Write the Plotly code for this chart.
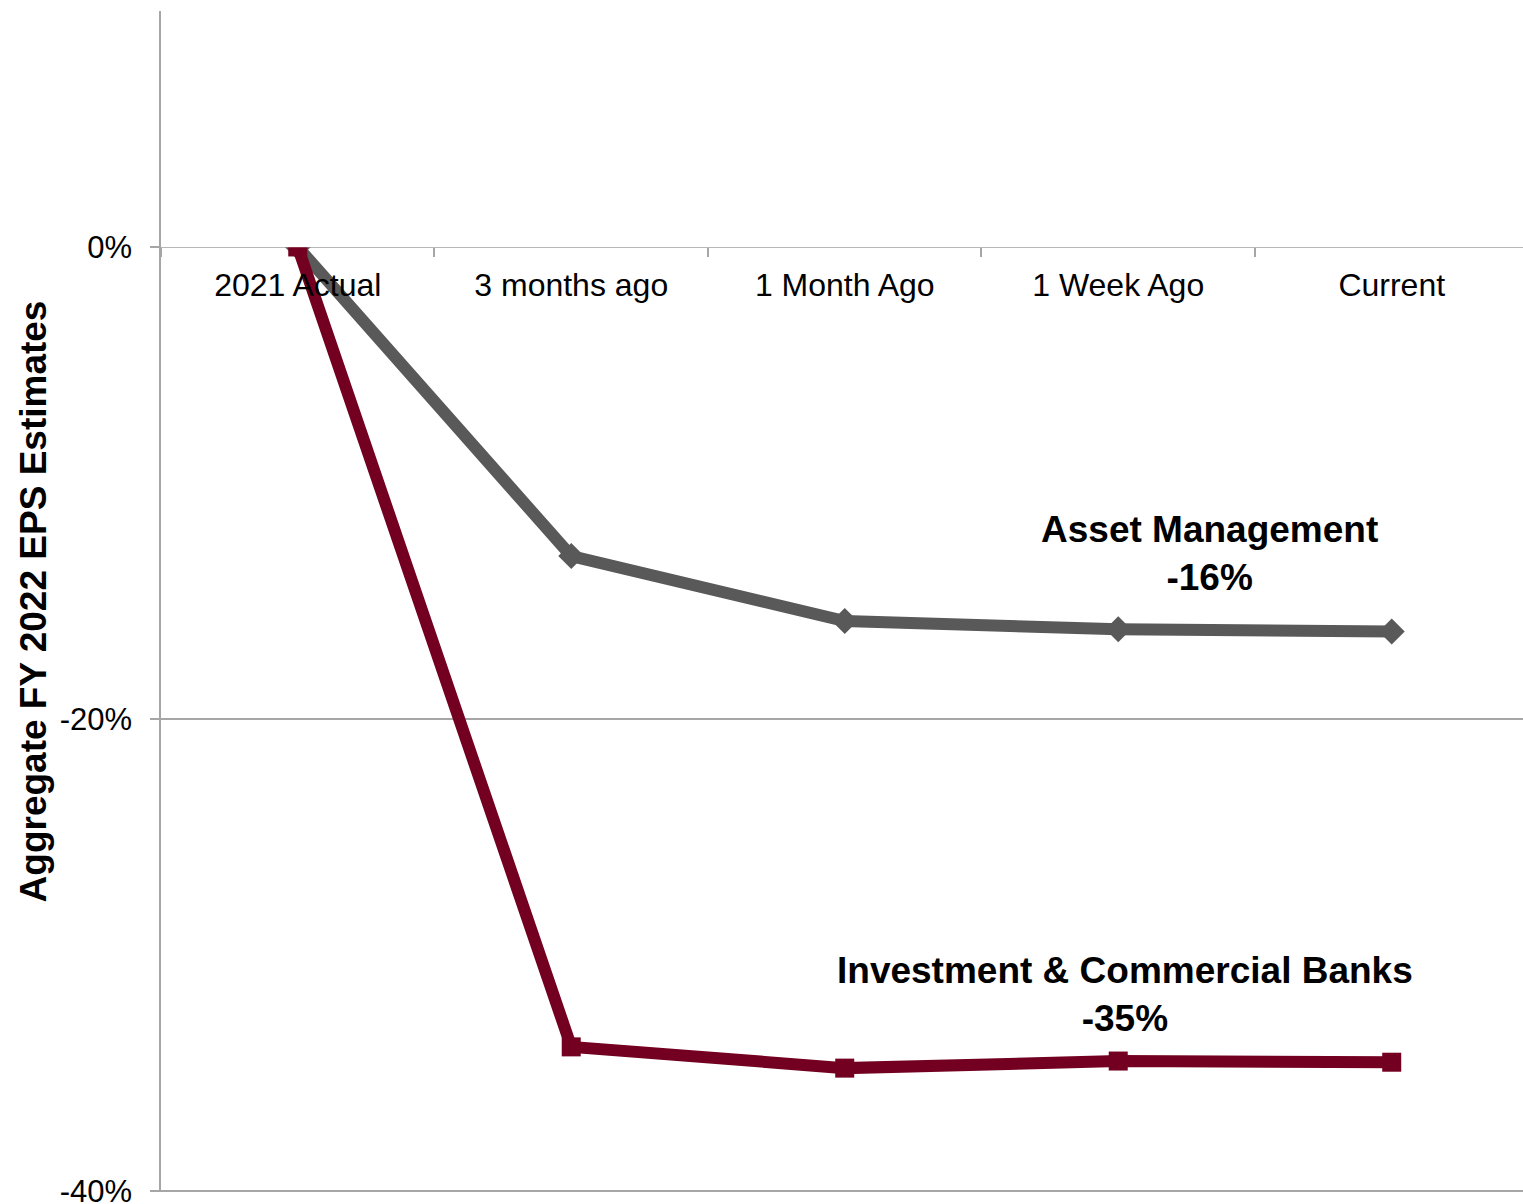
import plotly.graph_objects as go

categories = ["2021 Actual", "3 months ago", "1 Month Ago", "1 Week Ago", "Current"]
asset_mgmt = [0.0, -13.1, -15.85, -16.2, -16.3]
inv_banks = [0.0, -33.9, -34.8, -34.5, -34.55]
y_ticks = [0, -20, -40]
y_tick_labels = ["0%", "-20%", "-40%"]

GRAY = "#595959"
MAROON = "#730020"
GRID = "#a6a6a6"
FONT = "Liberation Sans, Arial, sans-serif"

fig = go.Figure()

fig.add_trace(go.Scatter(
    x=categories, y=asset_mgmt, mode="lines+markers",
    line=dict(color=GRAY, width=12),
    marker=dict(symbol="diamond", size=20, color=GRAY),
    name="Asset Management", hoverinfo="skip",
))
fig.add_trace(go.Scatter(
    x=categories, y=inv_banks, mode="lines+markers",
    line=dict(color=MAROON, width=12),
    marker=dict(symbol="square", size=19, color=MAROON),
    name="Investment & Commercial Banks", hoverinfo="skip",
))
# helper trace to carry the category axis drawn at the 0% line
fig.add_trace(go.Scatter(
    x=categories, y=[0.5] * len(categories), mode="markers",
    marker=dict(opacity=0), xaxis="x2", yaxis="y2",
    hoverinfo="skip", showlegend=False,
))

fig.add_annotation(
    x=3.335, y=-13.0, xref="x", yref="y",
    text="<b>Asset Management<br>-16%</b>", showarrow=False,
    font=dict(family=FONT, size=37, color="black"), align="center",
)
fig.add_annotation(
    x=3.025, y=-31.67, xref="x", yref="y",
    text="<b>Investment & Commercial Banks<br>-35%</b>", showarrow=False,
    font=dict(family=FONT, size=37, color="black"), align="center",
)

fig.update_layout(
    width=1523, height=1204,
    margin=dict(l=161, r=0, t=11, b=12),
    plot_bgcolor="white", paper_bgcolor="white",
    showlegend=False,
    font=dict(family=FONT, size=32, color="black"),
    xaxis=dict(
        type="category", range=[-0.5, 4.48], automargin=False,
        showticklabels=False, showgrid=False, zeroline=False, showline=False,
    ),
    yaxis=dict(
        range=[-40.05, 10], tickvals=y_ticks, ticktext=y_tick_labels,
        automargin=False,
        showgrid=True, gridcolor=GRID, gridwidth=1.5,
        zeroline=False, showline=True, linecolor=GRID, linewidth=1.5,
        ticks="outside", ticklen=9, tickcolor=GRID, tickwidth=1.5,
        ticklabelstandoff=12, ticklabeloverflow="allow",
        tickfont=dict(family=FONT, size=31, color="black"),
        title=dict(text="<b>Aggregate FY 2022 EPS Estimates</b>",
                   font=dict(family=FONT, size=37, color="black"), standoff=2),
    ),
    xaxis2=dict(
        type="category", range=[-0.5, 4.48], anchor="y2", automargin=False,
        showgrid=False, zeroline=False, showline=False,
        ticks="outside", tickson="boundaries", ticklen=9,
        tickcolor=GRID, tickwidth=1.5, ticklabelstandoff=16,
        tickfont=dict(family=FONT, size=32, color="black"),
    ),
    yaxis2=dict(
        domain=[0.8, 1.0], range=[0, 1], anchor="x2",
        visible=False,
    ),
)

fig.write_html("out.html")
